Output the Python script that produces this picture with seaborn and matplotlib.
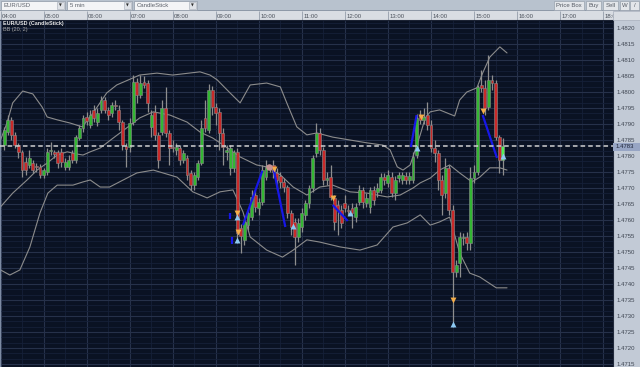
import matplotlib
matplotlib.use("Agg")
import matplotlib.pyplot as plt
from matplotlib.patches import Rectangle
from matplotlib.ticker import FixedLocator, MultipleLocator
import matplotlib.transforms as mtransforms
import numpy as np
import pandas as pd
import seaborn as sns

# ------------------------------------------------------------------ data
symbol = "EUR/USD"
interval_label = "5 min"
chart_label = "CandleStick"
title_label = "EUR/USD (CandleStick)"
indicator_label = "BB (20, 2)"
first_bar = "04:05"
bar_step_min = 5
last_price = 1.4783

opens = [
    1.47834, 1.47875, 1.47913, 1.47866, 1.47834, 1.47813, 1.47781, 1.47772, 1.47778, 1.47769,
    1.47766, 1.47741, 1.47750, 1.47816, 1.47813, 1.47813, 1.47813, 1.47766, 1.47766, 1.47809,
    1.47788, 1.47856, 1.47888, 1.47922, 1.47897, 1.47944, 1.47906, 1.47944, 1.47975, 1.47944,
    1.47934, 1.47959, 1.47944, 1.47906, 1.47831, 1.47828, 1.47906, 1.48031, 1.47991, 1.48031,
    1.48028, 1.47891, 1.47938, 1.47866, 1.47875, 1.47950, 1.47872, 1.47828, 1.47819, 1.47825,
    1.47788, 1.47794, 1.47747, 1.47709, 1.47734, 1.47778, 1.47919, 1.47881, 1.48006, 1.47953,
    1.47938, 1.47872, 1.47813, 1.47763, 1.47763, 1.47813, 1.47575, 1.47538, 1.47584, 1.47609,
    1.47678, 1.47638, 1.47656, 1.47734, 1.47763, 1.47772, 1.47747, 1.47738, 1.47719, 1.47703,
    1.47622, 1.47594, 1.47547, 1.47578, 1.47616, 1.47653, 1.47700, 1.47809, 1.47872, 1.47819,
    1.47725, 1.47734, 1.47669, 1.47647, 1.47631, 1.47653, 1.47631, 1.47638, 1.47609, 1.47656,
    1.47694, 1.47653, 1.47641, 1.47694, 1.47688, 1.47694, 1.47734, 1.47716, 1.47734, 1.47684,
    1.47731, 1.47725, 1.47738, 1.47725, 1.47725, 1.47803, 1.47928, 1.47913, 1.47928, 1.47897,
    1.47825, 1.47809, 1.47725, 1.47684, 1.47763, 1.47631, 1.47438, 1.47466, 1.47544, 1.47547,
    1.47528, 1.47731, 1.47750, 1.48022, 1.48013, 1.47953, 1.48038, 1.48028, 1.47859, 1.47788,
]
closes = [
    1.47881, 1.47913, 1.47866, 1.47834, 1.47813, 1.47756, 1.47756, 1.47794, 1.47756, 1.47766,
    1.47741, 1.47756, 1.47813, 1.47816, 1.47806, 1.47778, 1.47781, 1.47781, 1.47788, 1.47788,
    1.47859, 1.47888, 1.47919, 1.47909, 1.47928, 1.47919, 1.47934, 1.47975, 1.47944, 1.47928,
    1.47959, 1.47956, 1.47906, 1.47834, 1.47822, 1.47903, 1.48031, 1.47991, 1.48028, 1.48022,
    1.47966, 1.47928, 1.47866, 1.47788, 1.47950, 1.47872, 1.47825, 1.47825, 1.47828, 1.47788,
    1.47809, 1.47741, 1.47709, 1.47741, 1.47778, 1.47888, 1.47888, 1.48006, 1.47953, 1.47934,
    1.47872, 1.47828, 1.47819, 1.47825, 1.47813, 1.47559, 1.47550, 1.47594, 1.47622, 1.47672,
    1.47641, 1.47656, 1.47756, 1.47766, 1.47763, 1.47750, 1.47725, 1.47719, 1.47703, 1.47622,
    1.47578, 1.47547, 1.47591, 1.47622, 1.47653, 1.47700, 1.47794, 1.47872, 1.47819, 1.47725,
    1.47731, 1.47672, 1.47594, 1.47631, 1.47591, 1.47638, 1.47628, 1.47622, 1.47641, 1.47694,
    1.47656, 1.47669, 1.47694, 1.47663, 1.47700, 1.47734, 1.47725, 1.47741, 1.47684, 1.47725,
    1.47741, 1.47741, 1.47725, 1.47738, 1.47797, 1.47919, 1.47913, 1.47922, 1.47897, 1.47825,
    1.47809, 1.47725, 1.47678, 1.47763, 1.47631, 1.47438, 1.47459, 1.47547, 1.47547, 1.47528,
    1.47731, 1.47750, 1.48016, 1.48013, 1.47950, 1.48038, 1.48028, 1.47859, 1.47788, 1.47830,
]
highs = [
    1.47891, 1.47928, 1.47922, 1.47875, 1.47841, 1.47819, 1.47797, 1.47819, 1.47788, 1.47778,
    1.47775, 1.47763, 1.47825, 1.47844, 1.47819, 1.47819, 1.47825, 1.47794, 1.47803, 1.47819,
    1.47866, 1.47897, 1.47928, 1.47938, 1.47944, 1.47959, 1.47950, 1.47988, 1.47984, 1.47953,
    1.47969, 1.47975, 1.47959, 1.47913, 1.47841, 1.47919, 1.48053, 1.48044, 1.48053, 1.48050,
    1.48038, 1.47944, 1.47959, 1.47875, 1.47975, 1.48016, 1.47881, 1.47850, 1.47841, 1.47834,
    1.47819, 1.47803, 1.47756, 1.47750, 1.47788, 1.47913, 1.47975, 1.48025, 1.48019, 1.47966,
    1.47950, 1.47888, 1.47834, 1.47834, 1.47819, 1.47825, 1.47588, 1.47606, 1.47631, 1.47694,
    1.47694, 1.47669, 1.47772, 1.47788, 1.47772, 1.47788, 1.47763, 1.47750, 1.47731, 1.47709,
    1.47631, 1.47606, 1.47606, 1.47638, 1.47663, 1.47709, 1.47803, 1.47903, 1.47888, 1.47828,
    1.47750, 1.47772, 1.47678, 1.47663, 1.47647, 1.47678, 1.47647, 1.47653, 1.47653, 1.47709,
    1.47703, 1.47684, 1.47703, 1.47706, 1.47716, 1.47747, 1.47747, 1.47756, 1.47750, 1.47738,
    1.47750, 1.47750, 1.47750, 1.47750, 1.47813, 1.47931, 1.47944, 1.47950, 1.47969, 1.47913,
    1.47850, 1.47819, 1.47741, 1.47794, 1.47772, 1.47647, 1.47475, 1.47563, 1.47559, 1.47563,
    1.47766, 1.47772, 1.48022, 1.48069, 1.48038, 1.48116, 1.48053, 1.48038, 1.47866, 1.47856,
]
lows = [
    1.47819, 1.47866, 1.47850, 1.47825, 1.47794, 1.47734, 1.47741, 1.47763, 1.47747, 1.47750,
    1.47731, 1.47731, 1.47741, 1.47803, 1.47794, 1.47763, 1.47766, 1.47756, 1.47756, 1.47778,
    1.47778, 1.47850, 1.47875, 1.47897, 1.47888, 1.47906, 1.47894, 1.47934, 1.47934, 1.47913,
    1.47922, 1.47944, 1.47881, 1.47819, 1.47766, 1.47813, 1.47897, 1.47966, 1.47981, 1.48013,
    1.47938, 1.47859, 1.47850, 1.47763, 1.47866, 1.47859, 1.47772, 1.47813, 1.47803, 1.47772,
    1.47778, 1.47725, 1.47694, 1.47694, 1.47725, 1.47772, 1.47875, 1.47872, 1.47928, 1.47897,
    1.47819, 1.47772, 1.47788, 1.47741, 1.47750, 1.47528, 1.47497, 1.47522, 1.47569, 1.47600,
    1.47625, 1.47616, 1.47647, 1.47725, 1.47750, 1.47731, 1.47694, 1.47700, 1.47688, 1.47606,
    1.47553, 1.47459, 1.47531, 1.47563, 1.47600, 1.47638, 1.47688, 1.47797, 1.47803, 1.47709,
    1.47709, 1.47663, 1.47569, 1.47553, 1.47575, 1.47625, 1.47616, 1.47575, 1.47594, 1.47647,
    1.47638, 1.47641, 1.47622, 1.47647, 1.47672, 1.47684, 1.47709, 1.47703, 1.47672, 1.47663,
    1.47719, 1.47713, 1.47713, 1.47713, 1.47716, 1.47794, 1.47900, 1.47900, 1.47881, 1.47813,
    1.47781, 1.47694, 1.47616, 1.47669, 1.47616, 1.47266, 1.47422, 1.47422, 1.47522, 1.47506,
    1.47506, 1.47716, 1.47741, 1.48000, 1.47928, 1.47944, 1.48006, 1.47850, 1.47747, 1.47741,
]

# Bollinger band (20, 2) lines
bb_upper_times = ["04:00", "04:09", "04:17", "04:31", "04:45", "04:58", "05:05", "05:19", "05:37", "05:54",
                  "06:09", "06:28", "06:42", "07:14", "07:38", "08:00", "08:38", "08:52", "09:02", "09:20",
                  "09:34", "09:48", "10:11", "10:30", "10:39", "10:53", "11:07", "11:21", "11:43", "12:07",
                  "12:31", "12:53", "13:03", "13:13", "13:21", "13:31", "13:38", "13:45", "13:52", "13:59",
                  "14:12", "14:33", "14:40", "14:50", "15:04", "15:12", "15:22", "15:36", "15:46"]
bb_upper = [1.47850, 1.47903, 1.47966, 1.48003, 1.47994, 1.47953, 1.47922, 1.47913, 1.47903, 1.47891,
            1.47934, 1.47997, 1.48022, 1.48053, 1.48059, 1.48053, 1.48063, 1.48053, 1.48038, 1.47997,
            1.47966, 1.48022, 1.48028, 1.48016, 1.47966, 1.47891, 1.47866, 1.47872, 1.47859, 1.47850,
            1.47841, 1.47834, 1.47819, 1.47766, 1.47756, 1.47772, 1.47819, 1.47866, 1.47919, 1.47938,
            1.47944, 1.47925, 1.47975, 1.48000, 1.48013, 1.48059, 1.48109, 1.48141, 1.48122]

bb_mid_times = ["04:00", "04:17", "04:37", "04:51", "05:05", "05:19", "05:33", "05:47", "05:55", "06:05",
                "06:19", "06:37", "06:56", "07:14", "07:33", "07:56", "08:20", "08:38", "08:56", "09:06",
                "09:34", "09:57", "10:11", "10:30", "10:48", "11:07", "11:25", "11:43", "12:07", "12:31",
                "12:59", "13:17", "13:35", "13:45", "13:59", "14:12", "14:26", "14:40", "14:57", "15:08",
                "15:22", "15:36", "15:46"]
bb_mid = [1.47641, 1.47684, 1.47725, 1.47756, 1.47778, 1.47803, 1.47813, 1.47806, 1.47803, 1.47813,
          1.47825, 1.47856, 1.47888, 1.47919, 1.47938, 1.47928, 1.47906, 1.47875, 1.47856, 1.47841,
          1.47797, 1.47772, 1.47766, 1.47741, 1.47703, 1.47678, 1.47703, 1.47709, 1.47688, 1.47684,
          1.47672, 1.47678, 1.47700, 1.47716, 1.47731, 1.47756, 1.47772, 1.47747, 1.47719, 1.47734,
          1.47763, 1.47763, 1.47756]

bb_lower_times = ["04:00", "04:13", "04:27", "04:41", "04:55", "05:06", "05:19", "05:41", "05:55", "06:05",
                  "06:19", "06:32", "06:51", "07:10", "07:33", "08:06", "08:28", "08:48", "09:06", "09:24",
                  "09:38", "09:48", "10:11", "10:33", "10:48", "11:07", "11:25", "11:53", "12:21", "12:45",
                  "13:07", "13:27", "13:45", "13:59", "14:12", "14:26", "14:40", "14:54", "15:08", "15:31",
                  "15:46"]
bb_lower = [1.47444, 1.47428, 1.47444, 1.47516, 1.47622, 1.47684, 1.47709, 1.47709, 1.47719, 1.47725,
            1.47703, 1.47703, 1.47725, 1.47747, 1.47756, 1.47734, 1.47688, 1.47669, 1.47688, 1.47694,
            1.47625, 1.47547, 1.47506, 1.47484, 1.47506, 1.47538, 1.47531, 1.47516, 1.47506, 1.47522,
            1.47578, 1.47591, 1.47616, 1.47584, 1.47594, 1.47609, 1.47497, 1.47434, 1.47422, 1.47388,
            1.47388]

# signal markers and trend segments
sell_times = ["09:30", "09:31", "10:21", "11:43", "13:46", "14:30", "15:12"]
sell_prices = [1.47622, 1.47563, 1.47759, 1.47669, 1.47922, 1.47350, 1.47941]
buy_times = ["09:30", "09:30", "10:48", "12:07", "13:40", "14:30", "15:40"]
buy_prices = [1.47609, 1.47538, 1.47581, 1.47622, 1.47825, 1.47275, 1.47800]
pivot_times = ["10:14"]
pivot_prices = [1.47766]
seg_t0 = ["09:20", "09:23", "09:38", "10:21", "11:43", "13:32", "15:12"]
seg_p0 = [1.47622, 1.47547, 1.47584, 1.47756, 1.47647, 1.47828, 1.47928]
seg_t1 = ["09:20", "09:23", "10:05", "10:37", "12:04", "13:40", "15:32"]
seg_p1 = [1.47603, 1.47525, 1.47754, 1.47578, 1.47597, 1.47928, 1.47794]

hour_labels = ["04:00", "05:00", "06:00", "07:00", "08:00", "09:00", "10:00", "11:00",
               "12:00", "13:00", "14:00", "15:00", "16:00", "17:00", "18:00"]
price_labels = ["1.4820", "1.4815", "1.4810", "1.4805", "1.4800", "1.4795", "1.4790", "1.4785",
                "1.4780", "1.4775", "1.4770", "1.4765", "1.4760", "1.4755", "1.4750", "1.4745",
                "1.4740", "1.4735", "1.4730", "1.4725", "1.4720", "1.4715"]


def minutes(s):
    h, m = s.split(":")
    return int(h) * 60 + int(m)


# ------------------------------------------------------------------ figure
sns.set_theme(style="dark")
plt.rcParams['font.family'] = ['Liberation Sans', 'DejaVu Sans']

W, H = 640, 367
fig = plt.figure(figsize=(6.4, 3.67), dpi=100)
fig.patch.set_facecolor('#b8c2ce')


def fx(px):
    return px / W


def fy(py):
    return 1 - py / H


def rect_px(x0, y0, x1, y1, fc, ec='none', lw=0.6, z=2):
    r = Rectangle((x0 / W, 1 - y1 / H), (x1 - x0) / W, (y1 - y0) / H,
                  transform=fig.transFigure, facecolor=fc, edgecolor=ec,
                  linewidth=lw, zorder=z)
    fig.add_artist(r)
    return r


# background strips (beneath the axes)
rect_px(0, 11, 640, 20, '#d9dde3', z=-2)
rect_px(0, 10.4, 640, 11.2, '#8e99a8', z=-1)
rect_px(613, 20, 640, 367, '#c2cad6', z=-2)

ax = fig.add_axes([0, 0, fx(613), 1 - 20 / H])
ax.set_facecolor('#0a1223')

# ------------------------------------------------------------------ candles
bar_t = minutes(first_bar) + bar_step_min * np.arange(len(opens))
df = pd.DataFrame({'t': bar_t, 'o': opens, 'h': highs, 'l': lows, 'c': closes})
up = df['c'] >= df['o']
colors = np.where(up, '#34b634', '#c92a2a').astype(object)
colors[-1] = '#54f054'
body_bottom = np.minimum(df['o'], df['c'])
body_height = np.maximum((df['c'] - df['o']).abs(), 0.00003)

ax.vlines(df['t'], df['l'], df['h'], color='#8e8e8e', linewidth=0.9, zorder=3)
ax.bar(df['t'], body_height, bottom=body_bottom, width=4.0, color=list(colors),
       edgecolor='#8a8a8a', linewidth=0.4, zorder=4)

# ------------------------------------------------------------------ Bollinger bands
for times, vals in [(bb_upper_times, bb_upper), (bb_mid_times, bb_mid),
                    (bb_lower_times, bb_lower)]:
    band = pd.DataFrame({'t': [minutes(s) for s in times], 'p': vals})
    sns.lineplot(data=band, x='t', y='p', ax=ax, color='#8c8c8c',
                 linewidth=0.8, zorder=2)

# ------------------------------------------------------------------ signals
for t0, p0, t1, p1 in zip(seg_t0, seg_p0, seg_t1, seg_p1):
    ax.plot([minutes(t0), minutes(t1)], [p0, p1], color='#1717e8',
            linewidth=1.6, solid_capstyle='butt', zorder=5)

sns.scatterplot(x=[minutes(s) for s in sell_times], y=sell_prices, marker='v',
                s=18, color='#f3ad4a', linewidth=0, ax=ax, zorder=6)
sns.scatterplot(x=[minutes(s) for s in buy_times], y=buy_prices, marker='^',
                s=18, color='#8cc8f2', linewidth=0, ax=ax, zorder=6)
sns.scatterplot(x=[minutes(s) for s in pivot_times], y=pivot_prices, marker='o',
                s=22, color='#c59292', linewidth=0, ax=ax, zorder=6)

ax.axhline(last_price, color='#cfcfcf', linewidth=1.1, linestyle=(0, (3, 2)), zorder=5)

# ------------------------------------------------------------------ axes styling
x_left = minutes("04:00") - 0.7
x_right = minutes("04:00") + 853.7
ax.set_xlim(x_left, x_right)
ax.set_ylim(1.471406, 1.482250)
ax.set_xlabel('')
ax.set_ylabel('')

hour_pos = [minutes(s) for s in hour_labels]
ax.xaxis.set_major_locator(FixedLocator(hour_pos))
ax.xaxis.set_minor_locator(MultipleLocator(30))
ax.yaxis.set_major_locator(FixedLocator([float(s) for s in price_labels]))
ax.yaxis.set_minor_locator(MultipleLocator(0.0005 / 3))
ax.set_xticklabels(hour_labels)
ax.set_yticklabels(price_labels)

ax.grid(True, which='major', color='#26314a', linewidth=0.8)
ax.grid(True, which='minor', color='#152038', linewidth=0.6)
ax.set_axisbelow(True)

ax.xaxis.tick_top()
ax.tick_params(axis='x', which='major', direction='out', length=6.5, width=0.7,
               color='#9ea6b2', pad=-5.6, labelsize=4.3, labelcolor='#4a505a',
               top=True, bottom=False, labeltop=True, labelbottom=False)
ax.tick_params(axis='x', which='minor', length=0)
ax.yaxis.tick_right()
ax.tick_params(axis='y', which='both', length=0, pad=2.4, labelsize=4.3,
               labelcolor='#3f4652')

offset = mtransforms.ScaledTranslation(1.5 / 100, 0, fig.dpi_scale_trans)
for lbl in ax.get_xticklabels():
    lbl.set_horizontalalignment('left')
    lbl.set_transform(lbl.get_transform() + offset)

for name, sp in ax.spines.items():
    sp.set_visible(False)
ax.spines['left'].set_visible(True)
ax.spines['left'].set_color('#7d8ba3')
ax.spines['left'].set_linewidth(1.0)
ax.spines['top'].set_visible(True)
ax.spines['top'].set_color('#1b2233')
ax.spines['top'].set_linewidth(0.8)
ax.spines['right'].set_visible(True)
ax.spines['right'].set_color('#222a3c')
ax.spines['right'].set_linewidth(0.8)

# in-chart captions
fig.text(fx(3), fy(20.8), title_label, va='top', ha='left', fontsize=3.9,
         color='#e8e8e8', weight='bold')
fig.text(fx(3), fy(26.8), indicator_label, va='top', ha='left', fontsize=3.9,
         color='#a8a8a8')

# ------------------------------------------------------------------ overlays
rect_px(613, 11.2, 640, 20, '#d9dde3', ec='#a7afbb', lw=0.5, z=5)
rect_px(613, 142.5, 640, 150.5, '#97a5c4', z=5)
fig.text(fx(616), fy(146.5), f"{last_price:.4f}", va='center', ha='left',
         fontsize=4.3, color='#1f2638', zorder=6)

# toolbar
for x0, x1, label in [(1, 65, symbol), (67, 132, interval_label), (134, 197, chart_label)]:
    rect_px(x0, 1, x1, 10, '#f3f4f6', ec='#8d97a5', lw=0.5, z=5)
    rect_px(x1 - 8, 1.6, x1 - 0.6, 9.4, '#dfe2e7', ec='#a3abb6', lw=0.4, z=6)
    fig.text(fx(x0 + 2.5), fy(5.6), label, va='center', ha='left', fontsize=4.3,
             color='#5d626b', zorder=7)
    fig.text(fx(x1 - 4.3), fy(5.8), '\u25bc', va='center', ha='center', fontsize=2.6,
             color='#2c2c2c', family='DejaVu Sans', zorder=7)

for x0, x1, label in [(554, 584, "Price Box"), (586, 601, "Buy"), (603, 618, "Sell"),
                      (620, 629, "W"), (630, 639, "/")]:
    rect_px(x0, 1, x1, 10, '#e3e6ea', ec='#99a2ae', lw=0.5, z=5)
    fig.text(fx((x0 + x1) / 2), fy(5.6), label, va='center', ha='center',
             fontsize=4.3, color='#555a63', zorder=7)

fig.savefig('out.png', dpi=100, facecolor=fig.get_facecolor())
